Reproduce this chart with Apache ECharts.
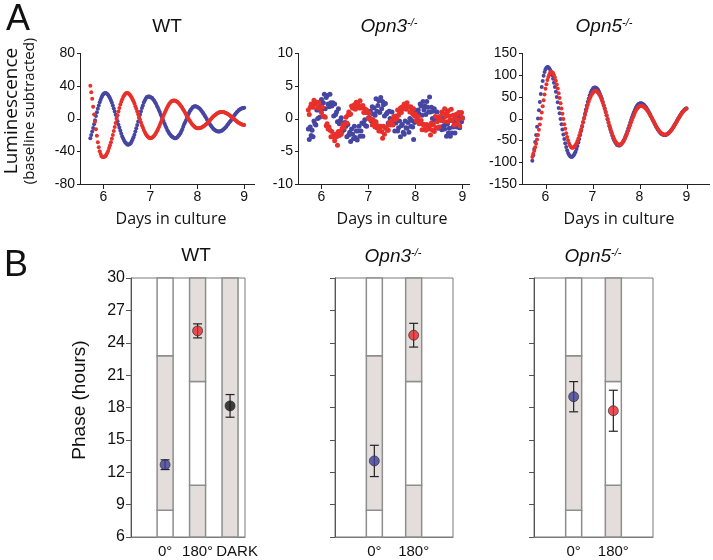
<!DOCTYPE html>
<html><head><meta charset="utf-8">
<script src="https://cdn.jsdelivr.net/npm/echarts@6/dist/echarts.min.js"></script>
<style>html,body{margin:0;padding:0;background:#fff}#c{width:713px;height:560px}</style>
</head><body><div id="c"></div>
<script>
// ---- Panel A data (days in culture, luminescence) ----
const days = [5.72,5.74,5.76,5.78,5.80,5.82,5.84,5.86,5.88,5.90,
5.92,5.94,5.96,5.98,6.00,6.02,6.04,6.06,6.08,6.10,
6.12,6.14,6.16,6.18,6.20,6.22,6.24,6.26,6.28,6.30,
6.32,6.34,6.36,6.38,6.40,6.42,6.44,6.46,6.48,6.50,
6.52,6.54,6.56,6.58,6.60,6.62,6.64,6.66,6.68,6.70,
6.72,6.74,6.76,6.78,6.80,6.82,6.84,6.86,6.88,6.90,
6.92,6.94,6.96,6.98,7.00,7.02,7.04,7.06,7.08,7.10,
7.12,7.14,7.16,7.18,7.20,7.22,7.24,7.26,7.28,7.30,
7.32,7.34,7.36,7.38,7.40,7.42,7.44,7.46,7.48,7.50,
7.52,7.54,7.56,7.58,7.60,7.62,7.64,7.66,7.68,7.70,
7.72,7.74,7.76,7.78,7.80,7.82,7.84,7.86,7.88,7.90,
7.92,7.94,7.96,7.98,8.00,8.02,8.04,8.06,8.08,8.10,
8.12,8.14,8.16,8.18,8.20,8.22,8.24,8.26,8.28,8.30,
8.32,8.34,8.36,8.38,8.40,8.42,8.44,8.46,8.48,8.50,
8.52,8.54,8.56,8.58,8.60,8.62,8.64,8.66,8.68,8.70,
8.72,8.74,8.76,8.78,8.80,8.82,8.84,8.86,8.88,8.90,
8.92,8.94,8.96,8.98,9.00];
const wtBlue = [-24,-20,-16,-11.5,-7,-2,3,7.5,12,16,
20,23,26,28.5,30,30.8,31,30.7,30,28.7,
27,24.7,22,19.2,16,12.3,8.5,4.5,0.5,-3.5,
-7.5,-11.4,-15,-18.5,-22,-24.5,-27,-28.9,-30,-31.4,
-32,-31.9,-31,-30.1,-28,-25.8,-23,-19.7,-16,-12,
-8,-3.6,1,4.9,9,12.8,16,19.5,22,24.2,
26,26.7,27,26.8,26,25.6,25,23.2,22,19.8,
18,15.4,13,10.4,8,5,2,-0.6,-3,-6.1,
-9,-11.3,-14,-15.8,-18,-19.4,-21,-22.1,-23,-23.6,
-24,-24,-23.5,-22.7,-21,-19.7,-18,-15.5,-13,-10.2,
-7,-4.5,-2,1.2,4,6.5,9,10.7,12,13.7,
14.5,15,15,14.7,14,13.5,12.5,11.5,10,8.6,
7,5.2,3.5,1.4,-0.5,-2.4,-4.5,-6.2,-8,-9.6,
-11,-12.5,-13.5,-14.5,-15,-15.7,-16,-16,-16,-15.4,
-15,-14.1,-13,-12.2,-11,-9.7,-8,-6.7,-5,-3.6,
-2,-0.3,1.5,3,4.5,6,7.5,8.6,10,10.7,
11.5,12.2,12.5,12.9,13];
const wtRed = [40,32,24,14.5,5,-4,-13,-21,-29,-35,
-40,-43.5,-46,-47,-47,-46.7,-46,-44.3,-42,-39.6,
-36,-32.8,-29,-24.6,-20,-15.3,-10.5,-5.5,-0.7,4.1,
8.6,12.9,17,20.4,23.6,26.2,28,29.8,30.7,31,
31,30.1,29,27.6,25.7,23.5,21,18.2,15,12,
8.6,5.2,1.8,-1.6,-5,-8.2,-11,-14,-16.5,-18.7,
-20.6,-22.1,-23,-23.8,-24,-23.8,-23.3,-22.4,-21,-19.6,
-17.8,-15.7,-13.3,-10.8,-8,-5.3,-2.4,0.4,3.3,6.1,
8.8,11.3,13.7,15.8,17.6,19.1,20.4,21.3,21.8,22,
21.9,21.5,20.9,20.1,19,17.7,16.3,14.7,12.9,11,
9.1,7.1,5,2.9,0.9,-1,-2.9,-4.7,-6.3,-7.7,
-9,-10.1,-10.9,-11.5,-11.9,-12,-11.9,-11.7,-11.3,-10.8,
-10.1,-9.3,-8.4,-7.4,-6.3,-5.1,-3.9,-2.6,-1.4,-0.1,
1.1,2.3,3.4,4.4,5.3,6.1,6.8,7.3,7.7,7.9,
8,7.9,7.8,7.4,7,6.5,5.8,5.1,4.3,3.4,
2.5,1.5,0.5,-0.5,-1.5,-2.5,-3.4,-4.3,-5.1,-5.8,
-6.5,-7,-7.4,-7.8,-7.9];
const opn3Blue = [-1.6,-3.2,-1.3,-2.6,-1.8,-2.8,-0.4,-0.8,-1.0,1.3,
0.0,1.3,0.2,1.9,2.9,1.5,2.4,3.7,1.5,3.2,
3.5,2.2,1.8,3.7,2.4,1.9,2.4,0.4,2.2,0.6,
1.0,-0.5,1.5,-0.8,-0.3,0.1,-2.0,-0.7,-1.7,-0.6,
-1.2,-2.8,-0.9,-2.5,-2.1,-3.5,-1.6,-2.4,-3.1,-1.2,
-2.9,-1.9,-3.3,-1.9,-1.2,-2.7,-1.9,-0.7,-2.7,-0.8,
-0.2,-1.1,-1.2,1.0,0.1,0.1,1.1,-0.4,1.8,0.7,
1.6,0.5,3.0,1.1,2.0,2.7,0.9,3.2,1.5,2.6,
2.1,0.4,2.3,0.7,0.9,-0.7,1.1,0.0,-0.8,1.0,
-0.9,-0.2,-1.9,-0.7,-0.2,-1.9,-1.4,-0.4,-2.8,-1.1,
-0.9,-2.1,-2.4,-0.4,-1.4,-1.5,-0.6,-2.1,0.0,-1.2,
-0.3,-1.3,-3.2,-0.6,0.4,1.2,-0.4,1.3,0.7,2.2,
1.9,0.5,2.6,1.3,1.9,0.6,2.6,1.7,1.0,3.3,
1.0,1.7,0.0,1.1,1.5,-0.3,0.1,1.0,-1.5,0.0,
0.1,-1.3,-1.7,0.1,-1.1,-1.6,-0.9,-2.7,-0.8,-2.2,
-1.5,-2.7,-0.3,-2.2,-1.3,-0.5,-2.2,-0.6,-1.3,0.2,
0.0,-1.4,0.8,-0.5,0.1];
const opn3Red = [1.3,0.6,1.7,2.2,1.8,1.7,2.8,2.4,2.2,2.5,
1.6,2.5,1.6,1.8,0.9,1.7,0.3,0.3,0.2,-1.1,
-0.8,-1.6,-1.3,-1.8,-2.8,-2.0,-2.8,-2.6,-3.4,-2.4,
-2.8,-4.1,-2.0,-2.6,-2.0,-2.4,-1.5,-0.9,-1.4,-0.8,
0.2,-0.7,0.5,1.0,0.6,0.7,1.9,1.6,1.6,2.1,
1.4,2.5,1.8,2.2,1.6,2.7,1.6,1.9,2.0,0.9,
1.5,0.9,1.3,0.9,0.0,0.8,-0.2,-0.1,-1.0,-0.2,
-0.8,-1.3,-0.5,-1.4,-1.1,-1.9,-1.4,-1.2,-2.0,-3.0,
-1.2,-2.4,-1.5,-1.3,-1.8,-1.8,-0.6,-1.0,-0.9,-0.3,
-1.0,0.3,-0.2,0.4,0.0,1.3,0.5,1.1,1.6,0.9,
1.8,1.5,2.2,2.1,1.4,2.4,1.7,1.8,1.0,1.8,
1.2,0.7,1.5,0.4,0.7,-0.3,0.2,0.3,-0.8,-0.7,
-0.3,-1.7,-0.9,-0.9,-1.6,-1.8,-0.9,-1.5,-1.6,-1.2,
-2.5,-0.7,-1.8,-1.0,-2.0,0.3,-1.4,-0.5,0.2,-1.3,
0.3,-0.3,1.0,0.8,-0.4,1.5,0.3,0.8,-0.5,1.2,
0.4,-0.2,1.4,-0.3,0.5,-1.0,0.1,0.6,-0.8,-0.2,
0.9,-1.1,0.6,0.9,0.0];
const opn5Blue = [-97,-84,-70,-54,-38,-19,0,19,38,56,
72,86,98,106.5,113,116.5,118,117.2,115,111,
106,99,91,82,72,61,49,37,24,11.8,
-1,-13.2,-25,-36.5,-47,-56.7,-65,-72.6,-79,-83.2,
-86,-87.8,-88,-86.6,-84,-80.4,-76,-69.8,-63,-55.2,
-47,-37.8,-28,-18.4,-8.5,1.4,11,20.8,30,38.2,
46,52.8,59,63.4,67,69.6,71,70.9,70,67.9,
65,61,56,50.8,45,37.8,30,22.7,15,6.6,
-1.6,-9.7,-18,-25.1,-32,-38.8,-45,-49.8,-54,-57.5,
-60,-61.5,-62,-61.6,-60,-58,-55,-51.1,-47,-41.5,
-36,-29.7,-23,-16.8,-10,-3.6,3,8.8,14.5,19.6,
24,27.9,31,33.2,34.5,35,35,33.9,32.5,30.7,
28,25.5,22,18.7,15,10.7,6,1.9,-2.6,-7.1,
-11.5,-15.7,-20,-23.5,-27,-29.9,-32.5,-34.7,-36,-37.4,
-38,-37.9,-37.5,-36.6,-35,-33.5,-31,-28.8,-26,-22.8,
-19.5,-15.9,-12,-8.4,-4.6,-0.8,3,6.4,10,13,
16,18.3,20.5,22.2,23.6];
const opn5Red = [-88,-81,-74,-66,-58,-48,-38,-26,-14,0,
14,28,42,55,68,78.5,88,95,101,105,
107,106.2,104,99.5,94,86.6,78,68.6,58,46.9,
35,23,11,-1,-13,-23.5,-34,-42.6,-50,-56.8,
-62,-65.1,-67,-66.9,-66,-63.7,-60.5,-56.5,-51.5,-45.7,
-39,-32,-24.5,-16.5,-8,0.1,8,16.5,24,31.7,
38.5,44.7,50,54.6,58,60.9,62.5,63,62.5,61.2,
59,55.7,52,47,41.5,35.5,29,22,14.7,7.2,
-0.4,-7.9,-15.4,-22.5,-29,-35.5,-41,-46.4,-51,-54.4,
-57,-59,-60,-59.9,-59,-57.4,-55,-51.9,-48,-43.6,
-38.6,-33.2,-27.5,-21.5,-15.5,-9.4,-3.5,2.2,7.6,12.6,
17,20.9,24,26.4,28,28.9,29,28.4,27.4,26,
24,21.7,19,15.9,12.5,8.9,5,1.0,-3,-7,
-11,-15,-18.7,-22.2,-25.5,-28.4,-31,-33.1,-34.8,-36,
-36.7,-37,-36.8,-36.1,-35,-33.4,-31.4,-29,-26.4,-23.4,
-20,-16.7,-13,-9.3,-5.6,-1.8,1.9,5.4,8.8,11.9,
14.7,17.3,19.4,21.2,22.6];
const dayTicks = [6,7,8,9];
const lumTicksWT = [-80,-40,0,40,80];
const lumTicksOpn3 = [-10,-5,0,5,10];
const lumTicksOpn5 = [-150,-100,-50,0,50,100,150];

// ---- Panel B data (phase, hours) ----
const phaseLabelsWT = ['0°','180°','DARK'];
const phaseLabelsKO = ['0°','180°'];
const phaseWT = [12.7,25.1,18.15];
const errWT = [0.45,0.65,1.05];
const phaseOpn3 = [13.05,24.7];
const errOpn3 = [1.45,1.1];
const phaseOpn5 = [19.0,17.7];
const errOpn5 = [1.4,1.9];
const pointColors = ['#3f3f98','#e8262a','#151515'];
// light-schedule bands: group (1=0°,2=180°,3=DARK), low, high, shaded
const bandGroup = [1,1,1,2,2,2,3];
const bandLow = [6,8.47,22.8,6,10.8,20.4,6];
const bandHigh = [8.47,22.8,30,10.8,20.4,30,30];
const bandShaded = [0,1,0,1,0,1,1];

const BLUE = '#4646a2', RED = '#e8302b';
const FT = 'Liberation Sans, Arial, sans-serif';
const FO = 'Open Sans, sans-serif';
const X_MIN = 5.5;

const chart = echarts.init(document.getElementById('c'));

function topX(gi, max){
  return {gridIndex:gi, type:'value', min:X_MIN, max:max,
    axisLine:{show:false}, axisTick:{show:false},
    axisLabel:{customValues:dayTicks, fontSize:14, color:'#111', margin:6, fontFamily:FT},
    splitLine:{show:false}};
}
function topY(gi, ticks){
  return {gridIndex:gi, type:'value', min:ticks[0], max:ticks[ticks.length - 1], interval:ticks[1] - ticks[0],
    axisLine:{show:false}, axisTick:{show:false},
    axisLabel:{customValues:ticks, fontSize:14, color:'#111', margin:5, fontFamily:FT},
    splitLine:{show:false}};
}
// left/bottom axis lines and ticks of the luminescence panels, drawn as filled
// 1px rectangles positioned through the axes' own scales
function axisFrame(gi, xMax, yTicks){
  const yMin = yTicks[0], yMax = yTicks[yTicks.length - 1];
  return {type:'custom', xAxisIndex:gi, yAxisIndex:gi, silent:true, clip:false, z:10,
    encode:{x:0, y:1}, data:[[dayTicks[0], yMin]],
    renderItem:(params, api) => {
      const o = api.coord([X_MIN, yMin]), t = api.coord([X_MIN, yMax]), r = api.coord([xMax, yMin]);
      const x0 = Math.round(o[0]), yb = Math.round(o[1]), yt = Math.round(t[1]), xr = Math.round(r[0]);
      const st = () => ({fill:'#222'});
      const ch = [
        {type:'rect', shape:{x:x0, y:yt, width:1, height:yb - yt + 1}, style:st()},
        {type:'rect', shape:{x:x0, y:yb, width:xr - x0, height:1}, style:st()}
      ];
      yTicks.forEach(v => {
        const p = api.coord([X_MIN, v]);
        ch.push({type:'rect', shape:{x:x0 - 3, y:Math.round(p[1]), width:3, height:1}, style:st()});
      });
      dayTicks.forEach(d => {
        const p = api.coord([d, yMin]);
        ch.push({type:'rect', shape:{x:Math.round(p[0]), y:yb + 1, width:1, height:4}, style:st()});
      });
      return {type:'group', children:ch};
    }};
}
function botX(gi, min, max, labels){
  return {gridIndex:gi, type:'value', min:min, max:max,
    axisLine:{show:true, onZero:false, lineStyle:{color:'#7a7a7a'}},
    axisTick:{show:false},
    axisLabel:{customValues:labels.map((_, i) => i + 1),
      formatter: v => { const s = labels[Math.round(v) - 1]; return s === 'DARK' ? '{d|' + s + '}' : s; },
      rich:{d:{fontSize:15, color:'#111', fontFamily:FT, padding:[0,0,0,14]}},
      fontSize:15, color:'#111', margin:7, fontFamily:FT},
    splitLine:{show:false}};
}
function botY(gi, showLabels){
  return {gridIndex:gi, type:'value', min:6, max:30, interval:3,
    axisLine:{show:true, onZero:false, lineStyle:{color:'#555'}},
    axisTick:{show:true, length:5, lineStyle:{color:'#555'}},
    axisLabel:{show:showLabels, fontSize:16, color:'#111', margin:6, fontFamily:FT},
    splitLine:{show:false}};
}
function scat(gi, vals, color, size){
  return {type:'scatter', xAxisIndex:gi, yAxisIndex:gi, symbolSize:size, silent:true,
    itemStyle:{color:color, opacity:1}, data: days.map((d, i) => [d, vals[i]])};
}
function bands(gi, n){
  const data = [];
  for (let i = 0; i < n; i++) data.push([bandGroup[i], bandLow[i], bandHigh[i], bandShaded[i]]);
  return {type:'custom', xAxisIndex:gi, yAxisIndex:gi, silent:true, z:2,
    encode:{x:0, y:[1,2]}, data:data,
    renderItem:(params, api) => {
      const top = api.coord([api.value(0), api.value(2)]);
      const bot = api.coord([api.value(0), api.value(1)]);
      const w = 16;
      return {type:'rect', shape:{x:top[0] - w/2, y:top[1], width:w, height:bot[1]-top[1]},
        style:{fill: api.value(3) ? '#e3dedb' : '#ffffff', stroke:'#8e8e8e', lineWidth:1.5}};
    }};
}
function errs(gi, means, es){
  return {type:'custom', xAxisIndex:gi, yAxisIndex:gi, silent:true, z:4,
    encode:{x:0, y:1}, data: means.map((m, i) => [i + 1, m, es[i]]),
    renderItem:(params, api) => {
      const x = api.value(0), m = api.value(1), e = api.value(2);
      const hi = api.coord([x, m + e]), lo = api.coord([x, m - e]);
      const c = 4.5;
      const st = {stroke:'#222', lineWidth:1.2};
      return {type:'group', children:[
        {type:'line', shape:{x1:hi[0], y1:hi[1], x2:lo[0], y2:lo[1]}, style:st},
        {type:'line', shape:{x1:hi[0]-c, y1:hi[1], x2:hi[0]+c, y2:hi[1]}, style:st},
        {type:'line', shape:{x1:lo[0]-c, y1:lo[1], x2:lo[0]+c, y2:lo[1]}, style:st}
      ]};
    }};
}
function pts(gi, means, colors){
  return {type:'scatter', xAxisIndex:gi, yAxisIndex:gi, symbolSize:10, silent:true, z:5,
    data: means.map((m, i) => ({value:[i + 1, m], itemStyle:{color:colors[i], borderColor:'#222', borderWidth:0.8}}))};
}
function txt(x, y, text, size, family, extra){
  return Object.assign({type:'text', x:x, y:y, z:100, silent:true,
    style:{text:text, fontSize:size, fontFamily:family, fill:'#111', align:'center', verticalAlign:'middle'}}, extra || {});
}
function koTitle(x, y, name){
  return {type:'text', x:x, y:y, z:100, silent:true,
    style:{text:'{i|' + name + '}{s|-/-}', align:'center', verticalAlign:'middle', fill:'#111',
      rich:{i:{fontSize:19, fontStyle:'italic', fontFamily:FT, fill:'#111'},
            s:{fontSize:11, fontStyle:'italic', fontFamily:FT, fill:'#111', padding:[0,0,9,0]}}}};
}

const option = {
  animation:false,
  backgroundColor:'#fff',
  grid:[
    {left:80, top:53, width:175, height:131},
    {left:298, top:53, width:172, height:131},
    {left:522, top:53, width:188, height:131},
    {left:131, top:278, width:114, height:259, show:true, borderColor:'#7a7a7a', borderWidth:1},
    {left:335, top:278, width:118, height:259, show:true, borderColor:'#7a7a7a', borderWidth:1},
    {left:534, top:278, width:119, height:259, show:true, borderColor:'#7a7a7a', borderWidth:1}
  ],
  xAxis:[topX(0, 9.23), topX(1, 9.16), topX(2, 9.5),
    botX(3, -0.05, 3.46, phaseLabelsWT), botX(4, 0, 3, phaseLabelsKO), botX(5, 0, 3, phaseLabelsKO)],
  yAxis:[topY(0, lumTicksWT), topY(1, lumTicksOpn3), topY(2, lumTicksOpn5),
    botY(3, true), botY(4, false), botY(5, false)],
  series:[
    scat(0, wtBlue, BLUE, 4), scat(0, wtRed, RED, 4),
    scat(1, opn3Blue, BLUE, 5), scat(1, opn3Red, RED, 5),
    scat(2, opn5Blue, BLUE, 4), scat(2, opn5Red, RED, 4),
    axisFrame(0, 9.23, lumTicksWT), axisFrame(1, 9.16, lumTicksOpn3), axisFrame(2, 9.5, lumTicksOpn5),
    bands(3, 7), errs(3, phaseWT, errWT), pts(3, phaseWT, pointColors),
    bands(4, 6), errs(4, phaseOpn3, errOpn3), pts(4, phaseOpn3, pointColors),
    bands(5, 6), errs(5, phaseOpn5, errOpn5), pts(5, phaseOpn5, pointColors)
  ],
  graphic:[
    txt(18, 20, 'A', 36, FT),
    txt(16, 266, 'B', 36, FT),
    txt(167, 27, 'WT', 19, FT),
    koTitle(389, 27, 'Opn3'),
    koTitle(604, 27, 'Opn5'),
    txt(12, 111, 'Luminescence', 19, FO, {rotation:Math.PI/2}),
    txt(30, 111, '(baseline subtracted)', 15, FO, {rotation:Math.PI/2}),
    txt(171, 219, 'Days in culture', 16, FO),
    txt(392, 219, 'Days in culture', 16, FO),
    txt(619, 219, 'Days in culture', 16, FO),
    txt(196, 256, 'WT', 19, FT),
    koTitle(393, 257, 'Opn3'),
    koTitle(593, 257, 'Opn5'),
    txt(80, 400, 'Phase (hours)', 19, FT, {rotation:Math.PI/2})
  ]
};
chart.setOption(option);
</script>
</body></html>
